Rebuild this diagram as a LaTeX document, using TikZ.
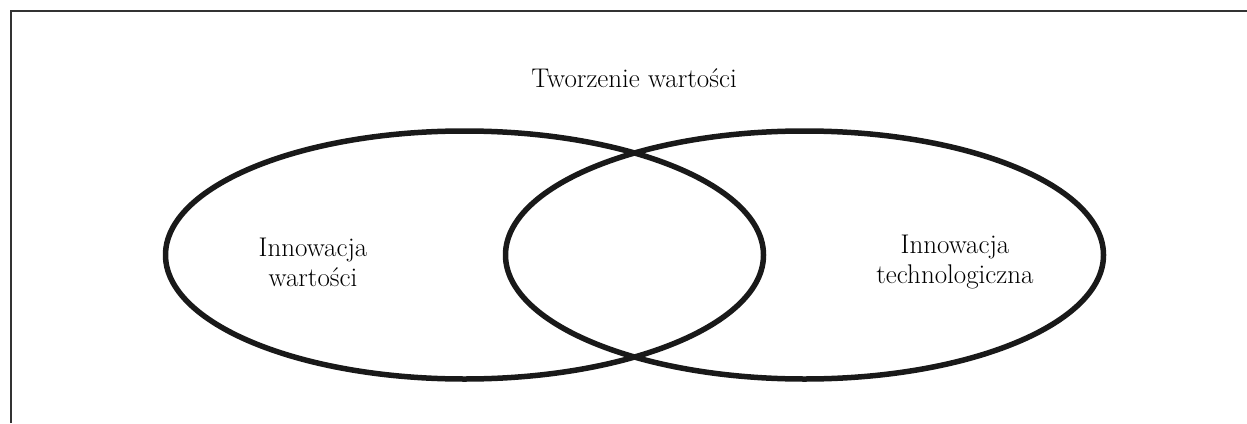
\documentclass[tikz,border=0pt]{standalone}
\usepackage{fontspec}
\usetikzlibrary{shapes.geometric}
\begin{document}
\begin{tikzpicture}[x=1pt,y=-1pt,
  venn/.style={draw=black!90,line width=5.5pt,ellipse,minimum width=598pt,minimum height=248pt,inner sep=0pt},
  frameline/.style={draw=black!80,line width=2pt},
  label/.style={align=center,font=\fontsize{27}{30}\selectfont,text=black}]
\useasboundingbox (0,0) rectangle (1247,423);
% open frame
\coordinate (fb) at (11,423);
\coordinate (fc) at (11,11);
\coordinate (fr) at (1247,11);
\draw[frameline] (fb) -- (fc) -- (fr);
% title
\node[label] (title) at (634,78) {Tworzenie wartości};
% two overlapping ellipses
\node[venn] (left) at (464.5,255) {};
\node[venn] (right) at (804.5,255) {};
\node[label] (lt) at (313,262) {Innowacja\\wartości};
\node[label] (rt) at (955,262) {Innowacja\\technologiczna};
\end{tikzpicture}
\end{document}
